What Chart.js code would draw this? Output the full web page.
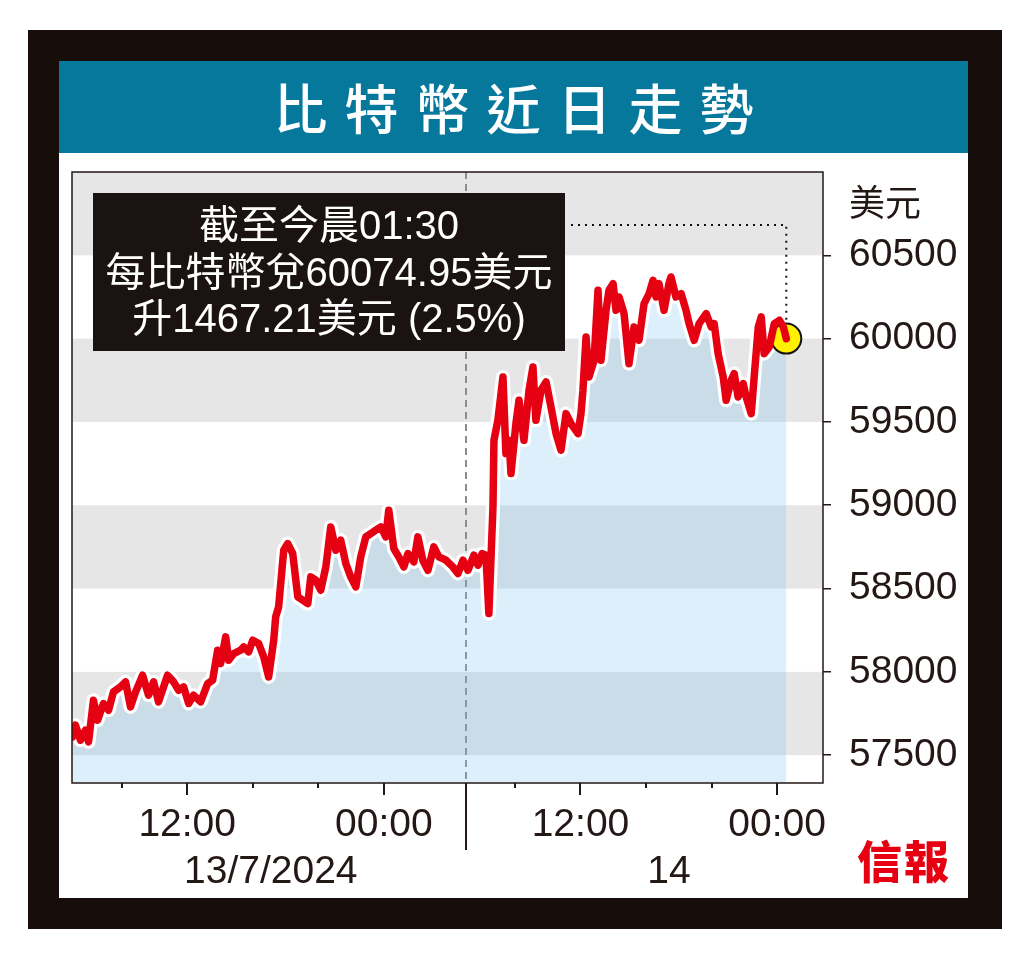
<!DOCTYPE html>
<html>
<head>
<meta charset="utf-8">
<script src="https://cdn.jsdelivr.net/npm/chart.js@4.4.1/dist/chart.umd.min.js"></script>
<style>
  body { margin: 0; background: #fff; width: 1024px; height: 971px; position: relative; overflow: hidden; font-family: "Noto Sans CJK TC", sans-serif; }
  #frame { position: absolute; left: 28px; top: 30px; width: 974px; height: 899px; background: #170e0b; }
  #panel { position: absolute; left: 59px; top: 61px; width: 909px; height: 837px; background: #fff; }
  #title { position: absolute; left: 0; top: 0; width: 909px; height: 92px; background: #06789c; color: #fff;
           font-size: 54px; font-weight: 500; line-height: 92px; text-align: center; letter-spacing: 17px; text-indent: 17px; }
  #wrap { position: absolute; left: 0; top: 92px; width: 909px; height: 745px; }
  #logo { position: absolute; left: 798px; top: 776px; color: #e60012; font-size: 45px; font-weight: 900; line-height: 1; letter-spacing: 2px; }
</style>
</head>
<body>
<div id="frame"></div>
<div id="panel">
  <div id="title">比特幣近日走勢</div>
  <div id="wrap"><canvas id="btc"></canvas></div>
  <div id="logo">信報</div>
</div>
<script>
// hours counted from 13/7/2024 00:00
const hours = [5.00, 5.18, 5.49, 5.79, 5.98, 6.28, 6.53, 6.89, 7.20, 7.50, 7.93, 8.24, 8.54, 8.85, 9.28, 9.64, 9.95, 10.25,
  10.80, 11.17, 11.48, 11.78, 12.09, 12.39, 12.82, 13.25, 13.55, 13.86, 14.04, 14.35, 14.53, 14.84, 15.26, 15.45, 15.75,
  16.00, 16.36, 16.67, 16.97, 17.28, 17.40, 17.58, 17.89, 18.13, 18.44, 18.75, 19.05, 19.36, 19.54, 19.85, 20.15, 20.46,
  20.76, 21.07, 21.37, 21.68, 21.98, 22.29, 22.59, 22.90, 23.20, 23.51, 23.82, 24.12, 24.30, 24.61, 24.91, 25.22, 25.47,
  25.83, 26.08, 26.38, 26.69, 27.05, 27.36, 27.79, 28.21, 28.52, 28.83, 29.13, 29.50, 29.75, 30.00, 30.23, 30.41, 30.66,
  30.72, 30.96, 31.27, 31.45, 31.64, 31.76, 32.06, 32.25, 32.55, 32.86, 33.10, 33.28, 33.59, 33.90, 34.20, 34.51, 34.81,
  35.12, 35.42, 35.85, 36.03, 36.15, 36.34, 36.52, 36.83, 37.07, 37.25, 37.56, 37.74, 37.99, 38.17, 38.35, 38.66, 38.96,
  39.27, 39.57, 39.88, 40.19, 40.43, 40.61, 40.79, 41.10, 41.40, 41.52, 41.83, 42.14, 42.44, 42.63, 42.94, 43.24, 43.67,
  43.98, 44.16, 44.40, 44.71, 44.89, 45.20, 45.38, 45.62, 45.93, 46.11, 46.42, 46.60, 46.85, 47.03, 47.21, 47.52, 47.83,
  48.14, 48.38, 48.56];
const prices = [57610, 57680, 57590, 57650, 57580, 57830, 57710, 57810, 57770, 57880, 57910, 57940, 57790, 57880, 57980, 57860, 57940, 57820,
  57980, 57940, 57890, 57910, 57810, 57860, 57820, 57930, 57950, 58130, 58050, 58210, 58070, 58110, 58130, 58150, 58120,
  58190, 58170, 58090, 57970, 58190, 58330, 58390, 58730, 58770, 58710, 58450, 58430, 58410, 58570, 58550, 58490, 58630,
  58870, 58730, 58790, 58650, 58570, 58510, 58690, 58810, 58830, 58850, 58870, 58810, 58970, 58740, 58690, 58630, 58710,
  58660, 58810, 58670, 58610, 58750, 58690, 58670, 58630, 58590, 58670, 58610, 58700, 58640, 58710, 58700, 58350, 58990,
  59390, 59510, 59770, 59310, 59390, 59190, 59490, 59630, 59390, 59690, 59830, 59510, 59690, 59740, 59590, 59430, 59330,
  59550, 59490, 59430, 59550, 59690, 60010, 59770, 59870, 60290, 59870, 60170, 60290, 60330, 60170, 60250, 60150, 59850,
  60070, 59990, 60210, 60270, 60350, 60250, 60330, 60170, 60330, 60370, 60250, 60270, 60170, 60090, 59990, 60090, 60150,
  60070, 60090, 59910, 59770, 59630, 59750, 59790, 59650, 59730, 59650, 59550, 59770, 60070, 60130, 59910, 59950, 60090,
  60110, 60070, 60000];

const yTicks = [57500, 58000, 58500, 59000, 59500, 60000, 60500];
const xTicks = [8, 12, 16, 20, 24, 32, 36, 40, 44, 48];
const xTickLabels = { 12: '12:00', 24: '00:00', 36: '12:00', 48: '00:00' };
const dayLabels = ['13/7/2024', '14'];
const dayCentres = [17.1, 41.4];
const daySplit = 29;
const unitLabel = '美元';
const noteLines = ['截至今晨01:30', '每比特幣兌60074.95美元', '升1467.21美元 (2.5%)'];

const series = hours.map((h, i) => ({ x: h, y: prices[i] }));
const lastPoint = series[series.length - 1];

const axisFont = { family: '"Liberation Sans", Arial, sans-serif', size: 39, lineHeight: 1 };
const ink = '#231815';

const decor = {
  id: 'decor',
  beforeDatasetsDraw(chart) {
    const { ctx, chartArea: a, scales: { x, y } } = chart;
    ctx.save();
    ctx.fillStyle = '#e6e6e6';
    yTicks.forEach(v => {
      if ((v - yTicks[0]) % 1000 === 0) {
        const top = y.getPixelForValue(Math.min(v + 500, y.max));
        const bot = y.getPixelForValue(v);
        ctx.fillRect(a.left, top, a.right - a.left, bot - top);
      }
    });
    const sx = Math.round(x.getPixelForValue(daySplit));
    ctx.strokeStyle = '#8c8c8c';
    ctx.lineWidth = 2;
    ctx.setLineDash([7, 5]);
    ctx.beginPath();
    ctx.moveTo(sx, a.top);
    ctx.lineTo(sx, a.bottom);
    ctx.stroke();
    ctx.restore();
  },
  afterDraw(chart) {
    const { ctx, chartArea: a, scales: { x, y } } = chart;
    ctx.save();
    // plot frame
    ctx.strokeStyle = ink;
    ctx.lineWidth = 1.5;
    ctx.strokeRect(a.left, a.top, a.right - a.left, a.bottom - a.top);
    // x tick marks
    ctx.lineWidth = 2;
    xTicks.forEach(v => {
      const px = Math.round(x.getPixelForValue(v));
      const len = xTickLabels[v] ? 12 : 5;
      ctx.beginPath();
      ctx.moveTo(px, a.bottom);
      ctx.lineTo(px, a.bottom + len);
      ctx.stroke();
    });
    const sx = Math.round(x.getPixelForValue(daySplit));
    ctx.beginPath();
    ctx.moveTo(sx, a.bottom);
    ctx.lineTo(sx, a.bottom + 67);
    ctx.stroke();
    // day labels
    ctx.fillStyle = ink;
    ctx.font = axisFont.size + 'px ' + axisFont.family;
    ctx.textAlign = 'center';
    ctx.textBaseline = 'middle';
    dayLabels.forEach((t, i) => ctx.fillText(t, x.getPixelForValue(dayCentres[i]), a.bottom + 89));
    // unit
    ctx.font = '36px "Noto Sans CJK TC", sans-serif';
    ctx.textAlign = 'left';
    ctx.fillText(unitLabel, y.left + 26, a.top + 30);
    // note box
    const bx = a.left + 21, by = a.top + 21, bw = 472, bh = 158;
    ctx.fillStyle = '#1a1311';
    ctx.fillRect(bx, by, bw, bh);
    ctx.fillStyle = '#fff';
    ctx.textAlign = 'center';
    ctx.font = '40px "Liberation Sans", "Noto Sans CJK TC", sans-serif';
    noteLines.forEach((t, i) => ctx.fillText(t, bx + bw / 2, by + 35 + i * 46.5));
    // dotted leader to the last price
    const mx = x.getPixelForValue(lastPoint.x), my = y.getPixelForValue(lastPoint.y);
    ctx.strokeStyle = '#111';
    ctx.lineWidth = 2;
    ctx.setLineDash([2, 5]);
    ctx.beginPath();
    ctx.moveTo(bx + bw + 6, by + 32);
    ctx.lineTo(mx, by + 32);
    ctx.lineTo(mx, my - 16);
    ctx.stroke();
    ctx.restore();
  }
};

new Chart(document.getElementById('btc'), {
  type: 'line',
  data: {
    datasets: [
      { data: series, borderColor: '#e50012', borderWidth: 7.5, pointRadius: 0, tension: 0, fill: false,
        borderJoinStyle: 'round', borderCapStyle: 'round' },
      { data: [lastPoint], showLine: false, pointRadius: 15, pointBackgroundColor: '#fff100',
        pointBorderColor: '#111', pointBorderWidth: 2 },
      { data: series, borderColor: '#fff', borderWidth: 14, pointRadius: 0, tension: 0, fill: 'start',
        backgroundColor: 'rgba(120,190,235,0.25)', borderJoinStyle: 'round' }
    ]
  },
  options: {
    animation: false,
    responsive: true,
    maintainAspectRatio: false,
    layout: { autoPadding: false, padding: { left: 13, top: 19, right: 0, bottom: 0 } },
    plugins: { legend: { display: false }, tooltip: { enabled: false } },
    scales: {
      x: {
        type: 'linear', min: 4.97, max: 50.8,
        grid: { display: false, drawTicks: false },
        border: { display: false },
        afterBuildTicks: s => { s.ticks = xTicks.map(v => ({ value: v })); },
        afterFit: s => { s.height = 115; s.paddingLeft = 0; s.paddingRight = 0; },
        ticks: { autoSkip: false, maxRotation: 0, padding: 23, color: ink, font: axisFont,
                 callback: v => xTickLabels[v] || '' }
      },
      y: {
        position: 'right', min: 57333, max: 61000,
        grid: { drawOnChartArea: false, tickLength: 8, color: ink, lineWidth: 1.5 },
        border: { display: false },
        afterBuildTicks: s => { s.ticks = yTicks.map(v => ({ value: v })); },
        afterFit: s => { s.width = 145; s.paddingTop = 0; s.paddingBottom = 0; },
        ticks: { padding: 18, color: ink, font: axisFont, callback: v => String(v) }
      }
    }
  },
  plugins: [decor]
});
</script>
</body>
</html>
